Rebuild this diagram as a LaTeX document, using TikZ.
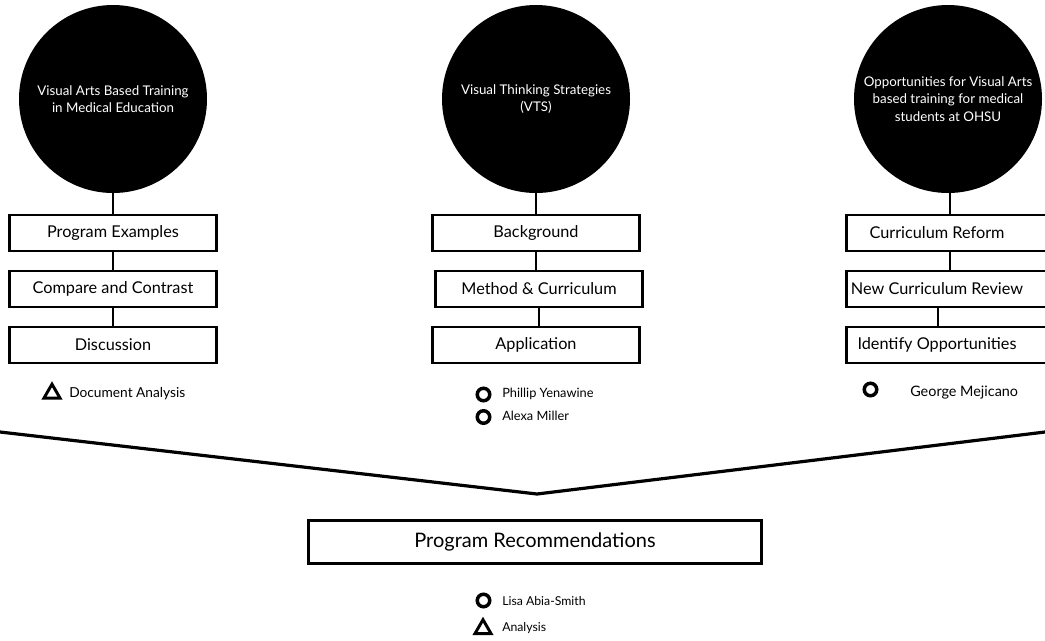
\documentclass[tikz,border=0pt]{standalone}
\usepackage{fontspec}
\setmainfont{Lato}
\usetikzlibrary{positioning,shapes.geometric}
\begin{document}
\begin{tikzpicture}[x=0.75pt,y=-0.75pt,line join=miter]
	\tikzset{box/.style={draw,fill=white,line width=2.2pt,minimum width=155pt,minimum height=27pt,inner sep=0pt,font=\fontsize{12.2}{14}\selectfont},
		rbox/.style={box,execute at end node={\hspace{19.5pt}}},
		bubble/.style={circle,fill=black,text=white,minimum size=141pt,inner sep=0pt,align=center,font=\fontsize{10}{13}\selectfont},
		link/.style={line width=2.2pt},
		ring/.style={circle,draw,line width=2.6pt,minimum size=9.4pt,inner sep=0pt},
		tri/.style={regular polygon,regular polygon sides=3,draw,line width=2.2pt,minimum size=14pt,inner sep=0pt},
		who/.style={inner sep=0pt,anchor=base west,font=\fontsize{9.6}{11}\selectfont}}
	\useasboundingbox (0,0) rectangle (1045,640);
	\clip (0,0) rectangle (1045,640);
	% drei Themen
	\node[bubble] (c1) at (113,99) {Visual Arts Based Training\\in Medical Education};
	\node[bubble] (c2) at (536,99) {Visual Thinking Strategies\\(VTS)};
	\node[bubble] (c3) at (948,99) {Opportunities for Visual Arts\\based training for medical\\students at OHSU};
	% Schritte
	\node[box] (l1) at (113,233) {Program Examples};
	\node[box] (l2) at (113,289) {Compare and Contrast};
	\node[box] (l3) at (113,345) {Discussion};
	\node[box] (m1) at (536,233) {Background};
	\node[box] (m2) at (539,289) {Method \& Curriculum};
	\node[box] (m3) at (536,345) {Application};
	\node[rbox] (r1) at (950,233) {Curriculum Reform};
	\node[rbox] (r2) at (950,289) {New Curriculum Review};
	\node[rbox] (r3) at (950,345) {Identify Opportunities};
	\foreach \a/\b in {c1/l1,l1/l2,l2/l3,c2/m1,m1/m2,m2/m3,r1/r2}
		\draw[link] (\a.south) -- (\a.south |- \b.north);
	\draw[link] (r1.north |- c3.south) -- (r1.north);
	\draw[link] ([xshift=-9pt]r2.south) -- ([xshift=-9pt]r3.north);
	% Trichter
	\coordinate (fl) at (0,432);
	\coordinate (tip) at (537,494);
	\coordinate (fr) at (1045,432);
	\draw[link,line width=2.4pt] (fl) -- (tip) -- (fr);
	\node[box,minimum width=340pt,minimum height=32pt,font=\fontsize{15}{17}\selectfont] (rec) at (535,542) {Program Recommendations};
	% Quellen
	\node[tri] (t1) at (52,393.5) {};
	\node[who,font=\fontsize{10.3}{12}\selectfont] (d1) at (69,397.5) {Document Analysis};
	\node[ring] (p1) at (483.5,394.5) {};
	\node[who] (d2) at (502,397) {Phillip Yenawine};
	\node[ring] (p2) at (483.5,417) {};
	\node[who] (d3) at (502,420) {Alexa Miller};
	\node[ring] (p3) at (870.5,389.5) {};
	\node[who,font=\fontsize{10.8}{12}\selectfont] (d4) at (910,396.5) {George Mejicano};
	\node[ring] (p4) at (483.5,600.5) {};
	\node[who,font=\fontsize{9.2}{11}\selectfont] (d5) at (502,605) {Lisa Abia-Smith};
	\node[tri] (t2) at (483,629) {};
	\node[who,font=\fontsize{9.2}{11}\selectfont] (d6) at (502,631.5) {Analysis};
\end{tikzpicture}
\end{document}
